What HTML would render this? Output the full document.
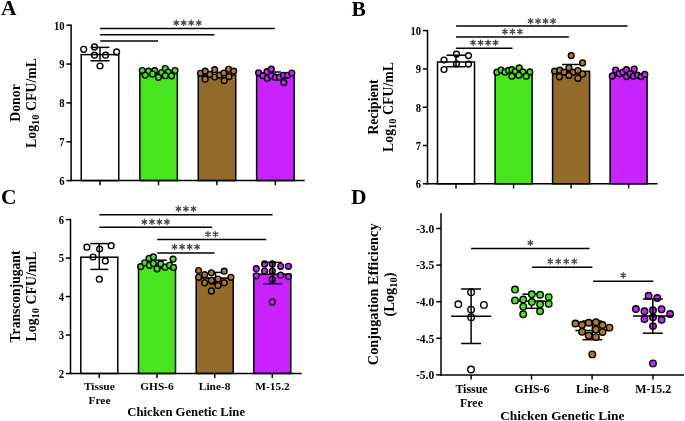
<!DOCTYPE html>
<html><head><meta charset="utf-8"><style>
html,body{margin:0;padding:0;background:#fff;}
body{width:685px;height:421px;overflow:hidden;font-family:"Liberation Serif", serif;}
svg{display:block;will-change:transform;}
</style></head><body>
<svg width="685" height="421" viewBox="0 0 685 421" font-family='"Liberation Serif", serif' font-weight="bold">
<rect width="685" height="421" fill="#fff"/>
<text x="1" y="15.3" font-size="21.5" text-anchor="start" >A</text>
<text x="351.5" y="16" font-size="21.5" text-anchor="start" >B</text>
<text x="1" y="204" font-size="21.5" text-anchor="start" >C</text>
<text x="351" y="204" font-size="21.5" text-anchor="start" >D</text>
<rect x="81.25" y="54.6" width="37.5" height="126.0" fill="#fff" stroke="#000" stroke-width="1.5"/>
<rect x="139.85" y="73.6" width="37.5" height="107.0" fill="#48E51E" stroke="#000" stroke-width="1.5"/>
<rect x="198.25" y="75" width="37.5" height="105.6" fill="#926A29" stroke="#000" stroke-width="1.5"/>
<rect x="256.65" y="74.8" width="37.5" height="105.8" fill="#C822FF" stroke="#000" stroke-width="1.5"/>
<line x1="100" y1="47.4" x2="100" y2="60.8" stroke="#000" stroke-width="1.5"/>
<line x1="90.5" y1="47.4" x2="109.5" y2="47.4" stroke="#000" stroke-width="1.5"/>
<line x1="90.5" y1="60.8" x2="109.5" y2="60.8" stroke="#000" stroke-width="1.5"/>
<line x1="275.4" y1="72" x2="275.4" y2="78" stroke="#000" stroke-width="1.5"/>
<line x1="269.9" y1="72" x2="280.9" y2="72" stroke="#000" stroke-width="1.5"/>
<line x1="269.9" y1="78" x2="280.9" y2="78" stroke="#000" stroke-width="1.5"/>
<circle cx="83.7" cy="49.3" r="2.9" fill="none" stroke="#000" stroke-width="1.4"/>
<circle cx="94.5" cy="46.9" r="2.9" fill="none" stroke="#000" stroke-width="1.4"/>
<circle cx="94.5" cy="55.2" r="2.9" fill="none" stroke="#000" stroke-width="1.4"/>
<circle cx="105.6" cy="55.2" r="2.9" fill="none" stroke="#000" stroke-width="1.4"/>
<circle cx="116.6" cy="51.9" r="2.9" fill="none" stroke="#000" stroke-width="1.4"/>
<circle cx="100" cy="66" r="2.9" fill="none" stroke="#000" stroke-width="1.4"/>
<circle cx="142.3" cy="70.5" r="2.9" fill="#48E51E" stroke="#000" stroke-width="1.4"/>
<circle cx="148.5" cy="71.2" r="2.9" fill="#48E51E" stroke="#000" stroke-width="1.4"/>
<circle cx="145.2" cy="75.1" r="2.9" fill="#48E51E" stroke="#000" stroke-width="1.4"/>
<circle cx="154.7" cy="70.7" r="2.9" fill="#48E51E" stroke="#000" stroke-width="1.4"/>
<circle cx="152.5" cy="74" r="2.9" fill="#48E51E" stroke="#000" stroke-width="1.4"/>
<circle cx="158.4" cy="77.3" r="2.9" fill="#48E51E" stroke="#000" stroke-width="1.4"/>
<circle cx="161.6" cy="72.5" r="2.9" fill="#48E51E" stroke="#000" stroke-width="1.4"/>
<circle cx="165.3" cy="68.5" r="2.9" fill="#48E51E" stroke="#000" stroke-width="1.4"/>
<circle cx="168.2" cy="72.2" r="2.9" fill="#48E51E" stroke="#000" stroke-width="1.4"/>
<circle cx="165.3" cy="75.7" r="2.9" fill="#48E51E" stroke="#000" stroke-width="1.4"/>
<circle cx="171.5" cy="75.8" r="2.9" fill="#48E51E" stroke="#000" stroke-width="1.4"/>
<circle cx="175" cy="70.5" r="2.9" fill="#48E51E" stroke="#000" stroke-width="1.4"/>
<circle cx="200.5" cy="73.3" r="2.9" fill="#A67A30" stroke="#000" stroke-width="1.4"/>
<circle cx="205.2" cy="71.1" r="2.9" fill="#A67A30" stroke="#000" stroke-width="1.4"/>
<circle cx="205.2" cy="79.2" r="2.9" fill="#A67A30" stroke="#000" stroke-width="1.4"/>
<circle cx="210" cy="74.4" r="2.9" fill="#A67A30" stroke="#000" stroke-width="1.4"/>
<circle cx="214.7" cy="69.7" r="2.9" fill="#A67A30" stroke="#000" stroke-width="1.4"/>
<circle cx="214.7" cy="77" r="2.9" fill="#A67A30" stroke="#000" stroke-width="1.4"/>
<circle cx="219.5" cy="75.1" r="2.9" fill="#A67A30" stroke="#000" stroke-width="1.4"/>
<circle cx="223.8" cy="73" r="2.9" fill="#A67A30" stroke="#000" stroke-width="1.4"/>
<circle cx="224.2" cy="80.6" r="2.9" fill="#A67A30" stroke="#000" stroke-width="1.4"/>
<circle cx="228.6" cy="69.3" r="2.9" fill="#A67A30" stroke="#000" stroke-width="1.4"/>
<circle cx="229" cy="76.6" r="2.9" fill="#A67A30" stroke="#000" stroke-width="1.4"/>
<circle cx="233.7" cy="71.1" r="2.9" fill="#A67A30" stroke="#000" stroke-width="1.4"/>
<circle cx="258.6" cy="72.8" r="2.9" fill="#C822FF" stroke="#000" stroke-width="1.4"/>
<circle cx="263" cy="75.7" r="2.9" fill="#C822FF" stroke="#000" stroke-width="1.4"/>
<circle cx="267" cy="71.7" r="2.9" fill="#C822FF" stroke="#000" stroke-width="1.4"/>
<circle cx="271.3" cy="69.1" r="2.9" fill="#C822FF" stroke="#000" stroke-width="1.4"/>
<circle cx="267.3" cy="78.2" r="2.9" fill="#C822FF" stroke="#000" stroke-width="1.4"/>
<circle cx="271.3" cy="75.7" r="2.9" fill="#C822FF" stroke="#000" stroke-width="1.4"/>
<circle cx="275.4" cy="77.5" r="2.9" fill="#C822FF" stroke="#000" stroke-width="1.4"/>
<circle cx="279.4" cy="77.2" r="2.9" fill="#C822FF" stroke="#000" stroke-width="1.4"/>
<circle cx="283.4" cy="75.3" r="2.9" fill="#C822FF" stroke="#000" stroke-width="1.4"/>
<circle cx="287.4" cy="75.3" r="2.9" fill="#C822FF" stroke="#000" stroke-width="1.4"/>
<circle cx="291.8" cy="73" r="2.9" fill="#C822FF" stroke="#000" stroke-width="1.4"/>
<circle cx="283.8" cy="82.6" r="2.9" fill="#C822FF" stroke="#000" stroke-width="1.4"/>
<line x1="71.1" y1="24.45" x2="71.1" y2="181.35" stroke="#000" stroke-width="1.5"/>
<line x1="70.35" y1="180.6" x2="304.7" y2="180.6" stroke="#000" stroke-width="1.5"/>
<line x1="66.39999999999999" y1="25.19999999999999" x2="71.1" y2="25.19999999999999" stroke="#000" stroke-width="1.5"/>
<text transform="translate(64.60,29.60) scale(0.94,1.17)" font-size="11.3" text-anchor="end">10</text>
<line x1="66.39999999999999" y1="64.04999999999998" x2="71.1" y2="64.04999999999998" stroke="#000" stroke-width="1.5"/>
<text transform="translate(64.60,68.45) scale(0.94,1.17)" font-size="11.3" text-anchor="end">9</text>
<line x1="66.39999999999999" y1="102.89999999999999" x2="71.1" y2="102.89999999999999" stroke="#000" stroke-width="1.5"/>
<text transform="translate(64.60,107.30) scale(0.94,1.17)" font-size="11.3" text-anchor="end">8</text>
<line x1="66.39999999999999" y1="141.75" x2="71.1" y2="141.75" stroke="#000" stroke-width="1.5"/>
<text transform="translate(64.60,146.15) scale(0.94,1.17)" font-size="11.3" text-anchor="end">7</text>
<line x1="66.39999999999999" y1="180.6" x2="71.1" y2="180.6" stroke="#000" stroke-width="1.5"/>
<text transform="translate(64.60,185.00) scale(0.94,1.17)" font-size="11.3" text-anchor="end">6</text>
<line x1="100" y1="180.6" x2="100" y2="185.2" stroke="#000" stroke-width="1.5"/>
<line x1="158.5" y1="180.6" x2="158.5" y2="185.2" stroke="#000" stroke-width="1.5"/>
<line x1="216.9" y1="180.6" x2="216.9" y2="185.2" stroke="#000" stroke-width="1.5"/>
<line x1="275.3" y1="180.6" x2="275.3" y2="185.2" stroke="#000" stroke-width="1.5"/>
<line x1="100.2" y1="28.5" x2="274.8" y2="28.5" stroke="#000" stroke-width="1.5"/>
<path d="M176.25,20.25L176.25,25.55M173.96,21.57L178.54,24.22M173.96,24.22L178.54,21.57" stroke="#484848" stroke-width="1.3" stroke-linecap="round" fill="none"/>
<path d="M183.75,20.25L183.75,25.55M181.46,21.57L186.04,24.22M181.46,24.22L186.04,21.57" stroke="#484848" stroke-width="1.3" stroke-linecap="round" fill="none"/>
<path d="M191.25,20.25L191.25,25.55M188.96,21.57L193.54,24.22M188.96,24.22L193.54,21.57" stroke="#484848" stroke-width="1.3" stroke-linecap="round" fill="none"/>
<path d="M198.75,20.25L198.75,25.55M196.46,21.57L201.04,24.22M196.46,24.22L201.04,21.57" stroke="#484848" stroke-width="1.3" stroke-linecap="round" fill="none"/>
<line x1="100.2" y1="34.7" x2="214.4" y2="34.7" stroke="#000" stroke-width="1.5"/>
<line x1="100.2" y1="41" x2="158" y2="41" stroke="#000" stroke-width="1.5"/>
<text x="20" y="103" font-size="13.8" text-anchor="middle" transform="rotate(-90 20 103)">Donor</text>
<text x="36" y="103" font-size="13.8" text-anchor="middle" transform="rotate(-90 36 103)">Log<tspan font-size="10.5" dy="3">10</tspan><tspan dy="-3"> CFU/mL</tspan></text>
<rect x="437.5" y="62" width="37" height="121.80000000000001" fill="#fff" stroke="#000" stroke-width="1.5"/>
<rect x="495.1" y="72.5" width="37" height="111.30000000000001" fill="#48E51E" stroke="#000" stroke-width="1.5"/>
<rect x="552.6" y="71.3" width="37" height="112.50000000000001" fill="#926A29" stroke="#000" stroke-width="1.5"/>
<rect x="610.1" y="75" width="37" height="108.80000000000001" fill="#C822FF" stroke="#000" stroke-width="1.5"/>
<line x1="456" y1="55.2" x2="456" y2="66.7" stroke="#000" stroke-width="1.5"/>
<line x1="446.5" y1="55.2" x2="465.5" y2="55.2" stroke="#000" stroke-width="1.5"/>
<line x1="446.5" y1="66.7" x2="465.5" y2="66.7" stroke="#000" stroke-width="1.5"/>
<line x1="571.1" y1="64.5" x2="571.1" y2="74" stroke="#000" stroke-width="1.5"/>
<line x1="562.1" y1="64.5" x2="580.1" y2="64.5" stroke="#000" stroke-width="1.5"/>
<line x1="562.1" y1="74" x2="580.1" y2="74" stroke="#000" stroke-width="1.5"/>
<circle cx="444" cy="60" r="2.9" fill="none" stroke="#000" stroke-width="1.4"/>
<circle cx="456.5" cy="54.1" r="2.9" fill="none" stroke="#000" stroke-width="1.4"/>
<circle cx="468.5" cy="55.6" r="2.9" fill="none" stroke="#000" stroke-width="1.4"/>
<circle cx="456.5" cy="63.8" r="2.9" fill="none" stroke="#000" stroke-width="1.4"/>
<circle cx="468.5" cy="64.1" r="2.9" fill="none" stroke="#000" stroke-width="1.4"/>
<circle cx="444" cy="69.5" r="2.9" fill="none" stroke="#000" stroke-width="1.4"/>
<circle cx="496.9" cy="72.2" r="2.9" fill="#48E51E" stroke="#000" stroke-width="1.4"/>
<circle cx="501" cy="70" r="2.9" fill="#48E51E" stroke="#000" stroke-width="1.4"/>
<circle cx="505" cy="72.2" r="2.9" fill="#48E51E" stroke="#000" stroke-width="1.4"/>
<circle cx="508.6" cy="70.4" r="2.9" fill="#48E51E" stroke="#000" stroke-width="1.4"/>
<circle cx="511.9" cy="69.7" r="2.9" fill="#48E51E" stroke="#000" stroke-width="1.4"/>
<circle cx="515.2" cy="71.5" r="2.9" fill="#48E51E" stroke="#000" stroke-width="1.4"/>
<circle cx="519.2" cy="67.9" r="2.9" fill="#48E51E" stroke="#000" stroke-width="1.4"/>
<circle cx="522.8" cy="71.9" r="2.9" fill="#48E51E" stroke="#000" stroke-width="1.4"/>
<circle cx="529.8" cy="71.9" r="2.9" fill="#48E51E" stroke="#000" stroke-width="1.4"/>
<circle cx="511.9" cy="76.2" r="2.9" fill="#48E51E" stroke="#000" stroke-width="1.4"/>
<circle cx="518.8" cy="75.2" r="2.9" fill="#48E51E" stroke="#000" stroke-width="1.4"/>
<circle cx="526.1" cy="76.2" r="2.9" fill="#48E51E" stroke="#000" stroke-width="1.4"/>
<circle cx="571.2" cy="55.6" r="2.9" fill="#A67A30" stroke="#000" stroke-width="1.4"/>
<circle cx="582.6" cy="62.9" r="2.9" fill="#A67A30" stroke="#000" stroke-width="1.4"/>
<circle cx="568.9" cy="67.8" r="2.9" fill="#A67A30" stroke="#000" stroke-width="1.4"/>
<circle cx="554.6" cy="71.1" r="2.9" fill="#A67A30" stroke="#000" stroke-width="1.4"/>
<circle cx="559.8" cy="70.2" r="2.9" fill="#A67A30" stroke="#000" stroke-width="1.4"/>
<circle cx="564.1" cy="72.1" r="2.9" fill="#A67A30" stroke="#000" stroke-width="1.4"/>
<circle cx="573.1" cy="72.1" r="2.9" fill="#A67A30" stroke="#000" stroke-width="1.4"/>
<circle cx="577.9" cy="70.5" r="2.9" fill="#A67A30" stroke="#000" stroke-width="1.4"/>
<circle cx="582.6" cy="74" r="2.9" fill="#A67A30" stroke="#000" stroke-width="1.4"/>
<circle cx="559.4" cy="76.8" r="2.9" fill="#A67A30" stroke="#000" stroke-width="1.4"/>
<circle cx="568.9" cy="75.4" r="2.9" fill="#A67A30" stroke="#000" stroke-width="1.4"/>
<circle cx="577.9" cy="78.3" r="2.9" fill="#A67A30" stroke="#000" stroke-width="1.4"/>
<circle cx="612.3" cy="75.9" r="2.9" fill="#C822FF" stroke="#000" stroke-width="1.4"/>
<circle cx="615.6" cy="70" r="2.9" fill="#C822FF" stroke="#000" stroke-width="1.4"/>
<circle cx="619.2" cy="73.7" r="2.9" fill="#C822FF" stroke="#000" stroke-width="1.4"/>
<circle cx="622.9" cy="72.2" r="2.9" fill="#C822FF" stroke="#000" stroke-width="1.4"/>
<circle cx="626.5" cy="69.7" r="2.9" fill="#C822FF" stroke="#000" stroke-width="1.4"/>
<circle cx="626.5" cy="76.6" r="2.9" fill="#C822FF" stroke="#000" stroke-width="1.4"/>
<circle cx="630.2" cy="73.7" r="2.9" fill="#C822FF" stroke="#000" stroke-width="1.4"/>
<circle cx="634.2" cy="69" r="2.9" fill="#C822FF" stroke="#000" stroke-width="1.4"/>
<circle cx="633.5" cy="76.2" r="2.9" fill="#C822FF" stroke="#000" stroke-width="1.4"/>
<circle cx="637.5" cy="75.2" r="2.9" fill="#C822FF" stroke="#000" stroke-width="1.4"/>
<circle cx="641.1" cy="76.6" r="2.9" fill="#C822FF" stroke="#000" stroke-width="1.4"/>
<circle cx="644.8" cy="74.4" r="2.9" fill="#C822FF" stroke="#000" stroke-width="1.4"/>
<line x1="427.5" y1="29.85" x2="427.5" y2="184.55" stroke="#000" stroke-width="1.5"/>
<line x1="426.75" y1="183.8" x2="657.5" y2="183.8" stroke="#000" stroke-width="1.5"/>
<line x1="422.8" y1="30.599999999999994" x2="427.5" y2="30.599999999999994" stroke="#000" stroke-width="1.5"/>
<text transform="translate(421.00,35.00) scale(0.94,1.17)" font-size="11.3" text-anchor="end">10</text>
<line x1="422.8" y1="68.9" x2="427.5" y2="68.9" stroke="#000" stroke-width="1.5"/>
<text transform="translate(421.00,73.30) scale(0.94,1.17)" font-size="11.3" text-anchor="end">9</text>
<line x1="422.8" y1="107.2" x2="427.5" y2="107.2" stroke="#000" stroke-width="1.5"/>
<text transform="translate(421.00,111.60) scale(0.94,1.17)" font-size="11.3" text-anchor="end">8</text>
<line x1="422.8" y1="145.5" x2="427.5" y2="145.5" stroke="#000" stroke-width="1.5"/>
<text transform="translate(421.00,149.90) scale(0.94,1.17)" font-size="11.3" text-anchor="end">7</text>
<line x1="422.8" y1="183.8" x2="427.5" y2="183.8" stroke="#000" stroke-width="1.5"/>
<text transform="translate(421.00,188.20) scale(0.94,1.17)" font-size="11.3" text-anchor="end">6</text>
<line x1="456" y1="183.8" x2="456" y2="188.4" stroke="#000" stroke-width="1.5"/>
<line x1="513.6" y1="183.8" x2="513.6" y2="188.4" stroke="#000" stroke-width="1.5"/>
<line x1="571.1" y1="183.8" x2="571.1" y2="188.4" stroke="#000" stroke-width="1.5"/>
<line x1="628.6" y1="183.8" x2="628.6" y2="188.4" stroke="#000" stroke-width="1.5"/>
<line x1="456.1" y1="26" x2="627.5" y2="26" stroke="#000" stroke-width="1.5"/>
<path d="M530.55,18.45L530.55,23.75M528.26,19.78L532.84,22.43M528.26,22.43L532.84,19.78" stroke="#484848" stroke-width="1.3" stroke-linecap="round" fill="none"/>
<path d="M538.05,18.45L538.05,23.75M535.76,19.78L540.34,22.43M535.76,22.43L540.34,19.78" stroke="#484848" stroke-width="1.3" stroke-linecap="round" fill="none"/>
<path d="M545.55,18.45L545.55,23.75M543.26,19.78L547.84,22.43M543.26,22.43L547.84,19.78" stroke="#484848" stroke-width="1.3" stroke-linecap="round" fill="none"/>
<path d="M553.05,18.45L553.05,23.75M550.76,19.78L555.34,22.43M550.76,22.43L555.34,19.78" stroke="#484848" stroke-width="1.3" stroke-linecap="round" fill="none"/>
<line x1="456.1" y1="37.1" x2="568.8" y2="37.1" stroke="#000" stroke-width="1.5"/>
<path d="M504.95,28.95L504.95,34.25M502.66,30.28L507.24,32.93M502.66,32.93L507.24,30.28" stroke="#484848" stroke-width="1.3" stroke-linecap="round" fill="none"/>
<path d="M512.45,28.95L512.45,34.25M510.16,30.28L514.74,32.93M510.16,32.93L514.74,30.28" stroke="#484848" stroke-width="1.3" stroke-linecap="round" fill="none"/>
<path d="M519.95,28.95L519.95,34.25M517.66,30.28L522.24,32.93M517.66,32.93L522.24,30.28" stroke="#484848" stroke-width="1.3" stroke-linecap="round" fill="none"/>
<line x1="456.1" y1="48.3" x2="512.5" y2="48.3" stroke="#000" stroke-width="1.5"/>
<path d="M473.05,40.05L473.05,45.35M470.76,41.37L475.34,44.02M470.76,44.02L475.34,41.37" stroke="#484848" stroke-width="1.3" stroke-linecap="round" fill="none"/>
<path d="M480.55,40.05L480.55,45.35M478.26,41.37L482.84,44.02M478.26,44.02L482.84,41.37" stroke="#484848" stroke-width="1.3" stroke-linecap="round" fill="none"/>
<path d="M488.05,40.05L488.05,45.35M485.76,41.37L490.34,44.02M485.76,44.02L490.34,41.37" stroke="#484848" stroke-width="1.3" stroke-linecap="round" fill="none"/>
<path d="M495.55,40.05L495.55,45.35M493.26,41.37L497.84,44.02M493.26,44.02L497.84,41.37" stroke="#484848" stroke-width="1.3" stroke-linecap="round" fill="none"/>
<text x="377.5" y="107" font-size="13.6" text-anchor="middle" transform="rotate(-90 377.5 107)">Recipient</text>
<text x="393" y="107" font-size="13.8" text-anchor="middle" transform="rotate(-90 393 107)">Log<tspan font-size="10.5" dy="3">10</tspan><tspan dy="-3"> CFU/mL</tspan></text>
<rect x="80.8" y="257.2" width="37" height="116.30000000000001" fill="#fff" stroke="#000" stroke-width="1.5"/>
<rect x="138.5" y="265" width="37" height="108.5" fill="#48E51E" stroke="#000" stroke-width="1.5"/>
<rect x="196.2" y="278" width="37" height="95.5" fill="#926A29" stroke="#000" stroke-width="1.5"/>
<rect x="253.8" y="274.2" width="37" height="99.30000000000001" fill="#C822FF" stroke="#000" stroke-width="1.5"/>
<line x1="99.3" y1="243.6" x2="99.3" y2="269.4" stroke="#000" stroke-width="1.5"/>
<line x1="90.3" y1="243.6" x2="108.3" y2="243.6" stroke="#000" stroke-width="1.5"/>
<line x1="90.3" y1="269.4" x2="108.3" y2="269.4" stroke="#000" stroke-width="1.5"/>
<line x1="160.7" y1="260.2" x2="160.7" y2="268" stroke="#000" stroke-width="1.5"/>
<line x1="154.7" y1="260.2" x2="166.7" y2="260.2" stroke="#000" stroke-width="1.5"/>
<line x1="154.7" y1="268" x2="166.7" y2="268" stroke="#000" stroke-width="1.5"/>
<line x1="215.5" y1="272.4" x2="215.5" y2="284" stroke="#000" stroke-width="1.5"/>
<line x1="209.5" y1="272.4" x2="221.5" y2="272.4" stroke="#000" stroke-width="1.5"/>
<line x1="209.5" y1="284" x2="221.5" y2="284" stroke="#000" stroke-width="1.5"/>
<circle cx="86.9" cy="247.2" r="2.9" fill="none" stroke="#000" stroke-width="1.4"/>
<circle cx="99.6" cy="249" r="2.9" fill="none" stroke="#000" stroke-width="1.4"/>
<circle cx="111.2" cy="245.7" r="2.9" fill="none" stroke="#000" stroke-width="1.4"/>
<circle cx="93.1" cy="257" r="2.9" fill="none" stroke="#000" stroke-width="1.4"/>
<circle cx="105.3" cy="260.9" r="2.9" fill="none" stroke="#000" stroke-width="1.4"/>
<circle cx="99.3" cy="279.2" r="2.9" fill="none" stroke="#000" stroke-width="1.4"/>
<circle cx="140.7" cy="266.6" r="2.9" fill="#48E51E" stroke="#000" stroke-width="1.4"/>
<circle cx="144.7" cy="262.8" r="2.9" fill="#48E51E" stroke="#000" stroke-width="1.4"/>
<circle cx="149.1" cy="258.4" r="2.9" fill="#48E51E" stroke="#000" stroke-width="1.4"/>
<circle cx="153.4" cy="256.9" r="2.9" fill="#48E51E" stroke="#000" stroke-width="1.4"/>
<circle cx="149.4" cy="265.3" r="2.9" fill="#48E51E" stroke="#000" stroke-width="1.4"/>
<circle cx="153.4" cy="263.5" r="2.9" fill="#48E51E" stroke="#000" stroke-width="1.4"/>
<circle cx="157.1" cy="268.8" r="2.9" fill="#48E51E" stroke="#000" stroke-width="1.4"/>
<circle cx="160.7" cy="263.9" r="2.9" fill="#48E51E" stroke="#000" stroke-width="1.4"/>
<circle cx="165.1" cy="267.2" r="2.9" fill="#48E51E" stroke="#000" stroke-width="1.4"/>
<circle cx="169.5" cy="265.3" r="2.9" fill="#48E51E" stroke="#000" stroke-width="1.4"/>
<circle cx="173.1" cy="259.1" r="2.9" fill="#48E51E" stroke="#000" stroke-width="1.4"/>
<circle cx="173.5" cy="267.5" r="2.9" fill="#48E51E" stroke="#000" stroke-width="1.4"/>
<circle cx="198.6" cy="270.5" r="2.9" fill="#A67A30" stroke="#000" stroke-width="1.4"/>
<circle cx="198.6" cy="277.3" r="2.9" fill="#A67A30" stroke="#000" stroke-width="1.4"/>
<circle cx="204.7" cy="274.7" r="2.9" fill="#A67A30" stroke="#000" stroke-width="1.4"/>
<circle cx="204.7" cy="282.8" r="2.9" fill="#A67A30" stroke="#000" stroke-width="1.4"/>
<circle cx="211.4" cy="272.8" r="2.9" fill="#A67A30" stroke="#000" stroke-width="1.4"/>
<circle cx="211.4" cy="280.4" r="2.9" fill="#A67A30" stroke="#000" stroke-width="1.4"/>
<circle cx="211.4" cy="290.9" r="2.9" fill="#A67A30" stroke="#000" stroke-width="1.4"/>
<circle cx="218" cy="279" r="2.9" fill="#A67A30" stroke="#000" stroke-width="1.4"/>
<circle cx="218" cy="285.5" r="2.9" fill="#A67A30" stroke="#000" stroke-width="1.4"/>
<circle cx="224.2" cy="271.2" r="2.9" fill="#A67A30" stroke="#000" stroke-width="1.4"/>
<circle cx="224.2" cy="282.8" r="2.9" fill="#A67A30" stroke="#000" stroke-width="1.4"/>
<circle cx="230.9" cy="277.3" r="2.9" fill="#A67A30" stroke="#000" stroke-width="1.4"/>
<circle cx="256.3" cy="268.7" r="2.9" fill="#C822FF" stroke="#000" stroke-width="1.4"/>
<circle cx="256.3" cy="275.8" r="2.9" fill="#C822FF" stroke="#000" stroke-width="1.4"/>
<circle cx="264.6" cy="263.9" r="2.9" fill="#C822FF" stroke="#000" stroke-width="1.4"/>
<circle cx="264.6" cy="271" r="2.9" fill="#C822FF" stroke="#000" stroke-width="1.4"/>
<circle cx="272.3" cy="263.9" r="2.9" fill="#C822FF" stroke="#000" stroke-width="1.4"/>
<circle cx="272.3" cy="271" r="2.9" fill="#C822FF" stroke="#000" stroke-width="1.4"/>
<circle cx="272.3" cy="279.3" r="2.9" fill="#C822FF" stroke="#000" stroke-width="1.4"/>
<circle cx="280.7" cy="266.3" r="2.9" fill="#C822FF" stroke="#000" stroke-width="1.4"/>
<circle cx="280.7" cy="275.2" r="2.9" fill="#C822FF" stroke="#000" stroke-width="1.4"/>
<circle cx="288.4" cy="266.3" r="2.9" fill="#C822FF" stroke="#000" stroke-width="1.4"/>
<circle cx="288.4" cy="276.6" r="2.9" fill="#C822FF" stroke="#000" stroke-width="1.4"/>
<circle cx="272.3" cy="301.9" r="2.9" fill="#C822FF" stroke="#000" stroke-width="1.4"/>
<line x1="272.6" y1="262.4" x2="272.6" y2="283.7" stroke="#000" stroke-width="1.5"/>
<line x1="263.3" y1="262.4" x2="281.90000000000003" y2="262.4" stroke="#000" stroke-width="1.5"/>
<line x1="263.3" y1="283.7" x2="281.90000000000003" y2="283.7" stroke="#000" stroke-width="1.5"/>
<line x1="70.5" y1="218.85" x2="70.5" y2="374.25" stroke="#000" stroke-width="1.5"/>
<line x1="69.75" y1="373.5" x2="301.7" y2="373.5" stroke="#000" stroke-width="1.5"/>
<line x1="65.8" y1="219.6" x2="70.5" y2="219.6" stroke="#000" stroke-width="1.5"/>
<text transform="translate(64.00,224.00) scale(0.94,1.17)" font-size="11.3" text-anchor="end">6</text>
<line x1="65.8" y1="258.075" x2="70.5" y2="258.075" stroke="#000" stroke-width="1.5"/>
<text transform="translate(64.00,262.47) scale(0.94,1.17)" font-size="11.3" text-anchor="end">5</text>
<line x1="65.8" y1="296.55" x2="70.5" y2="296.55" stroke="#000" stroke-width="1.5"/>
<text transform="translate(64.00,300.95) scale(0.94,1.17)" font-size="11.3" text-anchor="end">4</text>
<line x1="65.8" y1="335.025" x2="70.5" y2="335.025" stroke="#000" stroke-width="1.5"/>
<text transform="translate(64.00,339.42) scale(0.94,1.17)" font-size="11.3" text-anchor="end">3</text>
<line x1="65.8" y1="373.5" x2="70.5" y2="373.5" stroke="#000" stroke-width="1.5"/>
<text transform="translate(64.00,377.90) scale(0.94,1.17)" font-size="11.3" text-anchor="end">2</text>
<line x1="99.2" y1="373.5" x2="99.2" y2="378.1" stroke="#000" stroke-width="1.5"/>
<line x1="157" y1="373.5" x2="157" y2="378.1" stroke="#000" stroke-width="1.5"/>
<line x1="214.7" y1="373.5" x2="214.7" y2="378.1" stroke="#000" stroke-width="1.5"/>
<line x1="272.3" y1="373.5" x2="272.3" y2="378.1" stroke="#000" stroke-width="1.5"/>
<line x1="99.3" y1="214.8" x2="272.6" y2="214.8" stroke="#000" stroke-width="1.5"/>
<path d="M178.45,206.15L178.45,211.45M176.16,207.48L180.74,210.12M176.16,210.12L180.74,207.48" stroke="#484848" stroke-width="1.3" stroke-linecap="round" fill="none"/>
<path d="M185.95,206.15L185.95,211.45M183.66,207.48L188.24,210.12M183.66,210.12L188.24,207.48" stroke="#484848" stroke-width="1.3" stroke-linecap="round" fill="none"/>
<path d="M193.45,206.15L193.45,211.45M191.16,207.48L195.74,210.12M191.16,210.12L195.74,207.48" stroke="#484848" stroke-width="1.3" stroke-linecap="round" fill="none"/>
<line x1="99.3" y1="227.3" x2="212.1" y2="227.3" stroke="#000" stroke-width="1.5"/>
<path d="M144.45,219.25L144.45,224.55M142.16,220.58L146.74,223.22M142.16,223.22L146.74,220.58" stroke="#484848" stroke-width="1.3" stroke-linecap="round" fill="none"/>
<path d="M151.95,219.25L151.95,224.55M149.66,220.58L154.24,223.22M149.66,223.22L154.24,220.58" stroke="#484848" stroke-width="1.3" stroke-linecap="round" fill="none"/>
<path d="M159.45,219.25L159.45,224.55M157.16,220.58L161.74,223.22M157.16,223.22L161.74,220.58" stroke="#484848" stroke-width="1.3" stroke-linecap="round" fill="none"/>
<path d="M166.95,219.25L166.95,224.55M164.66,220.58L169.24,223.22M164.66,223.22L169.24,220.58" stroke="#484848" stroke-width="1.3" stroke-linecap="round" fill="none"/>
<line x1="157.2" y1="239.6" x2="266.2" y2="239.6" stroke="#000" stroke-width="1.5"/>
<path d="M207.95,231.55L207.95,236.85M205.66,232.88L210.24,235.52M205.66,235.52L210.24,232.88" stroke="#484848" stroke-width="1.3" stroke-linecap="round" fill="none"/>
<path d="M215.45,231.55L215.45,236.85M213.16,232.88L217.74,235.52M213.16,235.52L217.74,232.88" stroke="#484848" stroke-width="1.3" stroke-linecap="round" fill="none"/>
<line x1="157.2" y1="253" x2="214.5" y2="253" stroke="#000" stroke-width="1.5"/>
<path d="M174.60,244.15L174.60,249.45M172.31,245.48L176.89,248.12M172.31,248.12L176.89,245.48" stroke="#484848" stroke-width="1.3" stroke-linecap="round" fill="none"/>
<path d="M182.10,244.15L182.10,249.45M179.81,245.48L184.39,248.12M179.81,248.12L184.39,245.48" stroke="#484848" stroke-width="1.3" stroke-linecap="round" fill="none"/>
<path d="M189.60,244.15L189.60,249.45M187.31,245.48L191.89,248.12M187.31,248.12L191.89,245.48" stroke="#484848" stroke-width="1.3" stroke-linecap="round" fill="none"/>
<path d="M197.10,244.15L197.10,249.45M194.81,245.48L199.39,248.12M194.81,248.12L199.39,245.48" stroke="#484848" stroke-width="1.3" stroke-linecap="round" fill="none"/>
<text x="19.7" y="296.5" font-size="13.6" text-anchor="middle" transform="rotate(-90 19.7 296.5)">Transconjugant</text>
<text x="35.6" y="296.5" font-size="13.8" text-anchor="middle" transform="rotate(-90 35.6 296.5)">Log<tspan font-size="10.5" dy="3">10</tspan><tspan dy="-3"> CFU/mL</tspan></text>
<text x="99.3" y="390.4" font-size="11.4" text-anchor="middle" >Tissue</text>
<text x="157" y="390.4" font-size="11.4" text-anchor="middle" >GHS-6</text>
<text x="214.7" y="390.4" font-size="11.4" text-anchor="middle" >Line-8</text>
<text x="272.5" y="390.4" font-size="11.4" text-anchor="middle" >M-15.2</text>
<text x="99.5" y="403.6" font-size="11.4" text-anchor="middle" >Free</text>
<text x="186.2" y="415.7" font-size="12.7" text-anchor="middle" >Chicken Genetic Line</text>
<line x1="471.1" y1="289" x2="471.1" y2="343.5" stroke="#000" stroke-width="1.5"/>
<line x1="461.1" y1="289" x2="481.1" y2="289" stroke="#000" stroke-width="1.5"/>
<line x1="461.1" y1="343.5" x2="481.1" y2="343.5" stroke="#000" stroke-width="1.5"/>
<line x1="451.1" y1="316.3" x2="491.1" y2="316.3" stroke="#000" stroke-width="1.5"/>
<line x1="531.5" y1="294.2" x2="531.5" y2="308.3" stroke="#000" stroke-width="1.5"/>
<line x1="522.5" y1="294.2" x2="540.5" y2="294.2" stroke="#000" stroke-width="1.5"/>
<line x1="522.5" y1="308.3" x2="540.5" y2="308.3" stroke="#000" stroke-width="1.5"/>
<line x1="517.5" y1="301.1" x2="545.5" y2="301.1" stroke="#000" stroke-width="1.5"/>
<line x1="592.3" y1="321" x2="592.3" y2="339.7" stroke="#000" stroke-width="1.5"/>
<line x1="582.55" y1="321" x2="602.05" y2="321" stroke="#000" stroke-width="1.5"/>
<line x1="582.55" y1="339.7" x2="602.05" y2="339.7" stroke="#000" stroke-width="1.5"/>
<line x1="575.3" y1="330.4" x2="609.3" y2="330.4" stroke="#000" stroke-width="1.5"/>
<circle cx="471.1" cy="292.2" r="3.25" fill="none" stroke="#000" stroke-width="1.4"/>
<circle cx="458.3" cy="304.2" r="3.25" fill="none" stroke="#000" stroke-width="1.4"/>
<circle cx="483.9" cy="304.9" r="3.25" fill="none" stroke="#000" stroke-width="1.4"/>
<circle cx="471.1" cy="309.6" r="3.25" fill="none" stroke="#000" stroke-width="1.4"/>
<circle cx="471.1" cy="317.2" r="3.25" fill="none" stroke="#000" stroke-width="1.4"/>
<circle cx="471" cy="369.5" r="3.25" fill="none" stroke="#000" stroke-width="1.4"/>
<circle cx="515" cy="289.5" r="3.25" fill="#48E51E" stroke="#000" stroke-width="1.4"/>
<circle cx="515" cy="300.4" r="3.25" fill="#48E51E" stroke="#000" stroke-width="1.4"/>
<circle cx="523.2" cy="299.5" r="3.25" fill="#48E51E" stroke="#000" stroke-width="1.4"/>
<circle cx="523.2" cy="306.6" r="3.25" fill="#48E51E" stroke="#000" stroke-width="1.4"/>
<circle cx="523.2" cy="314.2" r="3.25" fill="#48E51E" stroke="#000" stroke-width="1.4"/>
<circle cx="531.8" cy="294.2" r="3.25" fill="#48E51E" stroke="#000" stroke-width="1.4"/>
<circle cx="531.8" cy="302" r="3.25" fill="#48E51E" stroke="#000" stroke-width="1.4"/>
<circle cx="540.1" cy="294.7" r="3.25" fill="#48E51E" stroke="#000" stroke-width="1.4"/>
<circle cx="540.1" cy="304.2" r="3.25" fill="#48E51E" stroke="#000" stroke-width="1.4"/>
<circle cx="540.1" cy="311.3" r="3.25" fill="#48E51E" stroke="#000" stroke-width="1.4"/>
<circle cx="548.7" cy="297.1" r="3.25" fill="#48E51E" stroke="#000" stroke-width="1.4"/>
<circle cx="548.7" cy="303.7" r="3.25" fill="#48E51E" stroke="#000" stroke-width="1.4"/>
<circle cx="575.4" cy="323.5" r="3.25" fill="#A67A30" stroke="#000" stroke-width="1.4"/>
<circle cx="582.1" cy="324.7" r="3.25" fill="#A67A30" stroke="#000" stroke-width="1.4"/>
<circle cx="582.1" cy="331.8" r="3.25" fill="#A67A30" stroke="#000" stroke-width="1.4"/>
<circle cx="588.7" cy="322.8" r="3.25" fill="#A67A30" stroke="#000" stroke-width="1.4"/>
<circle cx="588.7" cy="335.5" r="3.25" fill="#A67A30" stroke="#000" stroke-width="1.4"/>
<circle cx="595.9" cy="322.2" r="3.25" fill="#A67A30" stroke="#000" stroke-width="1.4"/>
<circle cx="595.9" cy="329.5" r="3.25" fill="#A67A30" stroke="#000" stroke-width="1.4"/>
<circle cx="595.9" cy="337.1" r="3.25" fill="#A67A30" stroke="#000" stroke-width="1.4"/>
<circle cx="602.5" cy="325" r="3.25" fill="#A67A30" stroke="#000" stroke-width="1.4"/>
<circle cx="602.5" cy="332" r="3.25" fill="#A67A30" stroke="#000" stroke-width="1.4"/>
<circle cx="609.5" cy="327.6" r="3.25" fill="#A67A30" stroke="#000" stroke-width="1.4"/>
<circle cx="592.3" cy="354.4" r="3.25" fill="#A67A30" stroke="#000" stroke-width="1.4"/>
<circle cx="648.6" cy="295.7" r="3.25" fill="#C822FF" stroke="#000" stroke-width="1.4"/>
<circle cx="657.3" cy="298" r="3.25" fill="#C822FF" stroke="#000" stroke-width="1.4"/>
<circle cx="635.9" cy="309" r="3.25" fill="#C822FF" stroke="#000" stroke-width="1.4"/>
<circle cx="644.5" cy="311.2" r="3.25" fill="#C822FF" stroke="#000" stroke-width="1.4"/>
<circle cx="653" cy="310.2" r="3.25" fill="#C822FF" stroke="#000" stroke-width="1.4"/>
<circle cx="661.6" cy="309.3" r="3.25" fill="#C822FF" stroke="#000" stroke-width="1.4"/>
<circle cx="670.1" cy="314" r="3.25" fill="#C822FF" stroke="#000" stroke-width="1.4"/>
<circle cx="644.5" cy="319.1" r="3.25" fill="#C822FF" stroke="#000" stroke-width="1.4"/>
<circle cx="653" cy="317.3" r="3.25" fill="#C822FF" stroke="#000" stroke-width="1.4"/>
<circle cx="661.6" cy="319.7" r="3.25" fill="#C822FF" stroke="#000" stroke-width="1.4"/>
<circle cx="653" cy="326.1" r="3.25" fill="#C822FF" stroke="#000" stroke-width="1.4"/>
<circle cx="653" cy="363.4" r="3.25" fill="#C822FF" stroke="#000" stroke-width="1.4"/>
<line x1="652.8" y1="299" x2="652.8" y2="333.2" stroke="#000" stroke-width="1.5"/>
<line x1="642.8" y1="299" x2="662.8" y2="299" stroke="#000" stroke-width="1.5"/>
<line x1="642.8" y1="333.2" x2="662.8" y2="333.2" stroke="#000" stroke-width="1.5"/>
<line x1="633.05" y1="316.1" x2="672.55" y2="316.1" stroke="#000" stroke-width="1.5"/>
<line x1="441" y1="213.3" x2="441" y2="375.65" stroke="#000" stroke-width="1.5"/>
<line x1="440.25" y1="374.9" x2="684" y2="374.9" stroke="#000" stroke-width="1.5"/>
<line x1="436.3" y1="228.5" x2="441" y2="228.5" stroke="#000" stroke-width="1.5"/>
<text transform="translate(434.20,232.80) scale(0.98,1.08)" font-size="11.8" text-anchor="end">-3.0</text>
<line x1="436.3" y1="265.1" x2="441" y2="265.1" stroke="#000" stroke-width="1.5"/>
<text transform="translate(434.20,269.40) scale(0.98,1.08)" font-size="11.8" text-anchor="end">-3.5</text>
<line x1="436.3" y1="301.7" x2="441" y2="301.7" stroke="#000" stroke-width="1.5"/>
<text transform="translate(434.20,306.00) scale(0.98,1.08)" font-size="11.8" text-anchor="end">-4.0</text>
<line x1="436.3" y1="338.29999999999995" x2="441" y2="338.29999999999995" stroke="#000" stroke-width="1.5"/>
<text transform="translate(434.20,342.60) scale(0.98,1.08)" font-size="11.8" text-anchor="end">-4.5</text>
<line x1="436.3" y1="374.9" x2="441" y2="374.9" stroke="#000" stroke-width="1.5"/>
<text transform="translate(434.20,379.20) scale(0.98,1.08)" font-size="11.8" text-anchor="end">-5.0</text>
<line x1="471.1" y1="374.9" x2="471.1" y2="379.59999999999997" stroke="#000" stroke-width="1.5"/>
<line x1="531.5" y1="374.9" x2="531.5" y2="379.59999999999997" stroke="#000" stroke-width="1.5"/>
<line x1="592.1" y1="374.9" x2="592.1" y2="379.59999999999997" stroke="#000" stroke-width="1.5"/>
<line x1="653" y1="374.9" x2="653" y2="379.59999999999997" stroke="#000" stroke-width="1.5"/>
<line x1="471.1" y1="248.6" x2="589.6" y2="248.6" stroke="#000" stroke-width="1.5"/>
<path d="M530.35,240.15L530.35,245.45M528.06,241.47L532.64,244.12M528.06,244.12L532.64,241.47" stroke="#484848" stroke-width="1.3" stroke-linecap="round" fill="none"/>
<line x1="532.1" y1="267.2" x2="592.5" y2="267.2" stroke="#000" stroke-width="1.5"/>
<path d="M550.30,258.75L550.30,264.05M548.01,260.07L552.59,262.72M548.01,262.72L552.59,260.07" stroke="#484848" stroke-width="1.3" stroke-linecap="round" fill="none"/>
<path d="M558.30,258.75L558.30,264.05M556.01,260.07L560.59,262.72M556.01,262.72L560.59,260.07" stroke="#484848" stroke-width="1.3" stroke-linecap="round" fill="none"/>
<path d="M566.30,258.75L566.30,264.05M564.01,260.07L568.59,262.72M564.01,262.72L568.59,260.07" stroke="#484848" stroke-width="1.3" stroke-linecap="round" fill="none"/>
<path d="M574.30,258.75L574.30,264.05M572.01,260.07L576.59,262.72M572.01,262.72L576.59,260.07" stroke="#484848" stroke-width="1.3" stroke-linecap="round" fill="none"/>
<line x1="593.2" y1="281.2" x2="653.3" y2="281.2" stroke="#000" stroke-width="1.5"/>
<path d="M623.25,272.75L623.25,278.05M620.96,274.07L625.54,276.72M620.96,276.72L625.54,274.07" stroke="#484848" stroke-width="1.3" stroke-linecap="round" fill="none"/>
<text x="377.6" y="294.3" font-size="14.4" text-anchor="middle" transform="rotate(-90 377.6 294.3)">Conjugation Efficiency</text>
<text x="394" y="294.5" font-size="14.4" text-anchor="middle" transform="rotate(-90 394 294.5)">(Log<tspan font-size="10.5" dy="3">10</tspan><tspan dy="-3">)</tspan></text>
<text x="471.5" y="392.9" font-size="11.9" text-anchor="middle" >Tissue</text>
<text x="532" y="392.9" font-size="11.9" text-anchor="middle" >GHS-6</text>
<text x="592.5" y="392.9" font-size="11.9" text-anchor="middle" >Line-8</text>
<text x="653.2" y="392.9" font-size="11.9" text-anchor="middle" >M-15.2</text>
<text x="471.5" y="406.6" font-size="11.9" text-anchor="middle" >Free</text>
<text x="562.3" y="419.5" font-size="13.4" text-anchor="middle" >Chicken Genetic Line</text>
</svg>
</body></html>
